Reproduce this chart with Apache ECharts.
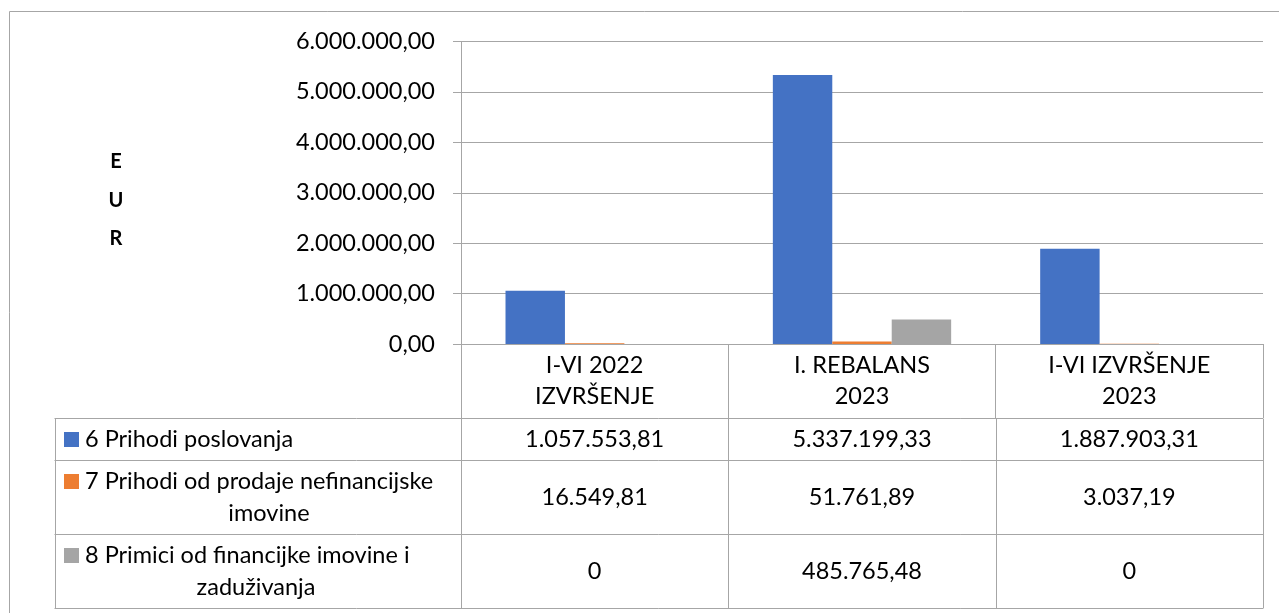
<!DOCTYPE html>
<html>
<head>
<meta charset="utf-8">
<script src="https://cdn.jsdelivr.net/npm/echarts@6/dist/echarts.min.js"></script>
<style>
html,body{margin:0;padding:0;background:#fff;}
#main{width:1279px;height:613px;}
</style>
</head>
<body>
<div id="main"></div>
<script>
// ---- data ----
const categories = ['I-VI 2022\nIZVRŠENJE', 'I. REBALANS\n2023', 'I-VI IZVRŠENJE\n2023'];
const seriesNames = ['6 Prihodi poslovanja', '7 Prihodi od prodaje nefinancijske imovine', '8 Primici od financijke imovine i zaduživanja'];
const tableRowLabels = [
  ['6 Prihodi poslovanja'],
  ['7 Prihodi od prodaje nefinancijske', 'imovine'],
  ['8 Primici od financijke imovine i', 'zaduživanja']
];
const prihodiPoslovanja = [1057553.81, 5337199.33, 1887903.31];
const prihodiProdaje = [16549.81, 51761.89, 3037.19];
const primiciFinancijske = [0, 485765.48, 0];
const yMin = 0, yMax = 6000000, yInterval = 1000000;
const axisTitle = ['E', 'U', 'R'];
const colors = ['#4472C4', '#ED7D31', '#A5A5A5'];

const FONT = 'Lato';
const FS = 23.5;
const LINE = '#A6A6A6';

function fmt(v) {
  if (v === 0) return '0';
  const neg = v < 0; v = Math.abs(v);
  const parts = v.toFixed(2).split('.');
  const intp = parts[0].replace(/\B(?=(\d{3})+(?!\d))/g, '.');
  return (neg ? '-' : '') + intp + ',' + parts[1];
}

const allSeries = [prihodiPoslovanja, prihodiProdaje, primiciFinancijske];

const chart = echarts.init(document.getElementById('main'), null, {renderer: 'canvas'});

const GRID = {left: 461, right: 16, top: 41.5, bottom: 269};

const option = {
  animation: false,
  backgroundColor: '#fff',
  textStyle: {fontFamily: FONT},
  grid: Object.assign({containLabel: false}, GRID),
  xAxis: {
    type: 'category',
    data: categories,
    axisLine: {show: true, lineStyle: {color: LINE, width: 1}},
    axisTick: {show: true, alignWithLabel: false, interval: 0, length: 74, lineStyle: {color: LINE, width: 1}},
    axisLabel: {interval: 0, margin: 6, color: '#000', fontFamily: FONT, fontSize: FS, lineHeight: 31, align: 'center'},
    splitLine: {show: false}
  },
  yAxis: {
    type: 'value',
    min: yMin, max: yMax, interval: yInterval,
    axisLine: {show: true, lineStyle: {color: LINE, width: 1}},
    axisTick: {show: true, length: 8, lineStyle: {color: LINE, width: 1}},
    axisLabel: {margin: 26, color: '#000', fontFamily: FONT, fontSize: FS, formatter: v => fmt(v).replace(/^0$/, '0,00')},
    splitLine: {show: true, lineStyle: {color: LINE, width: 1}}
  },
  series: allSeries.map((d, i) => ({
    name: seriesNames[i],
    type: 'bar',
    data: d,
    itemStyle: {color: colors[i]},
    barGap: '0%',
    barCategoryGap: '33.3%'
  }))
};
chart.setOption(option);

// ---- data table below the axis ----
const nCat = categories.length;
const centers = categories.map((c, i) => chart.convertToPixel({xAxisIndex: 0}, i));
const band = (chart.getWidth() - GRID.left - GRID.right) / nCat;
const bounds = [GRID.left];
for (let i = 0; i < nCat; i++) bounds.push(GRID.left + band * (i + 1));
const tableLeft = 54.5;
const rowY = [418.5, 460.5, 534.5, 608.5];
const g = [];
// outer border
g.push({type: 'rect', shape: {x: 9.5, y: 11.5, width: 1400, height: 800}, style: {fill: 'none', stroke: LINE, lineWidth: 1}, silent: true});
// horizontal lines
rowY.forEach(y => g.push({type: 'line', shape: {x1: tableLeft, y1: y, x2: bounds[nCat], y2: y}, style: {stroke: LINE, lineWidth: 1}}));
// vertical lines
[tableLeft].concat(bounds).forEach(x => g.push({type: 'line', shape: {x1: Math.round(x) + 0.5, y1: rowY[0], x2: Math.round(x) + 0.5, y2: rowY[3]}, style: {stroke: LINE, lineWidth: 1}}));
// row labels + legend keys
const labelCenters = [[null], [269, 269], [256, 256]];
allSeries.forEach((d, r) => {
  const top = rowY[r], bot = rowY[r + 1];
  const lines = tableRowLabels[r];
  const lh = 32;
  const firstY = (top + bot) / 2 - (lines.length - 1) * lh / 2;
  g.push({type: 'rect', shape: {x: 64, y: firstY - 7.5, width: 15, height: 15}, style: {fill: colors[r]}});
  lines.forEach((t, k) => {
    const y = firstY + k * lh;
    if (k === 0) {
      g.push({type: 'text', style: {text: t, x: 85, y: y, align: 'left', verticalAlign: 'middle', fill: '#000', font: FS + 'px ' + FONT}});
    } else {
      g.push({type: 'text', style: {text: t, x: labelCenters[r][k], y: y, align: 'center', verticalAlign: 'middle', fill: '#000', font: FS + 'px ' + FONT}});
    }
  });
  d.forEach((v, c) => {
    g.push({type: 'text', style: {text: fmt(v), x: centers[c], y: (top + bot) / 2, align: 'center', verticalAlign: 'middle', fill: '#000', font: FS + 'px ' + FONT}});
  });
});
// vertical axis title
axisTitle.forEach((ch, i) => {
  g.push({type: 'text', style: {text: ch, x: 116, y: 162 + i * 38.5, align: 'center', verticalAlign: 'middle', fill: '#000', font: 'bold 20px ' + FONT}});
});
chart.setOption({graphic: g});
</script>
</body>
</html>
